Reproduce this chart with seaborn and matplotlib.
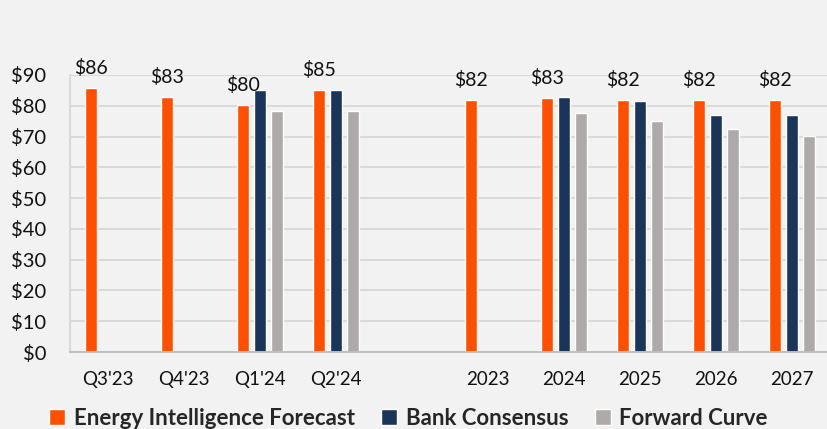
import matplotlib
matplotlib.use("Agg")
import matplotlib.pyplot as plt
import seaborn as sns
import pandas as pd
import numpy as np

# data
periods = ["Q3'23", "Q4'23", "Q1'24", "Q2'24", "2023", "2024", "2025", "2026", "2027"]
order = ["Q3'23", "Q4'23", "Q1'24", "Q2'24", " ", "2023", "2024", "2025", "2026", "2027"]
series = ["Energy Intelligence Forecast", "Bank Consensus", "Forward Curve"]
ei_forecast = [85.7, 82.9, 80.2, 85.2, 81.9, 82.5, 81.9, 81.9, 81.9]
bank_consensus = [np.nan, np.nan, 85.2, 85.2, np.nan, 82.7, 81.4, 76.9, 77.0]
forward_curve = [np.nan, np.nan, 78.2, 78.2, np.nan, 77.6, 74.9, 72.3, 70.2]
ei_labels = ["$86", "$83", "$80", "$85", "$82", "$83", "$82", "$82", "$82"]
y_ticks = [0, 10, 20, 30, 40, 50, 60, 70, 80, 90]
y_ticklabels = ["$0", "$10", "$20", "$30", "$40", "$50", "$60", "$70", "$80", "$90"]
colors = ["#fe5000", "#1b355a", "#aeaaaa"]

df = pd.DataFrame({
    "period": periods * 3,
    "series": np.repeat(series, len(periods)),
    "value": ei_forecast + bank_consensus + forward_curve,
}).dropna()

sns.set_theme(style="white")
plt.rcParams["font.family"] = ["Lato", "DejaVu Sans"]
bg = "#f2f2f2"

fig = plt.figure(figsize=(8.27, 4.29), dpi=100, facecolor=bg)
ax = fig.add_axes([70 / 827, 77 / 429, 760 / 827, 277 / 429], facecolor=bg)

sns.barplot(data=df, x="period", y="value", hue="series", order=order,
            hue_order=series, palette=colors, width=0.67, gap=0.25,
            saturation=1, ax=ax, legend=True)

ax.bar_label(ax.containers[0], labels=ei_labels, padding=8, fontsize=14,
             color="#111111")

ax.set_xlim(-0.5, 9.5)
ax.set_ylim(0, 90)
ax.set_yticks(y_ticks)
ax.set_yticklabels(y_ticklabels)
ax.set_xlabel("")
ax.set_ylabel("")
ax.yaxis.grid(True, color="#d9d9d9", linewidth=1.4)
ax.set_axisbelow(True)
ax.tick_params(axis="y", length=0, pad=17, labelsize=14.5, labelcolor="#111111")
ax.tick_params(axis="x", length=0, pad=14, labelsize=13.5, labelcolor="#111111")
for side in ["top", "right"]:
    ax.spines[side].set_visible(False)
ax.spines["left"].set_color("#d9d9d9")
ax.spines["left"].set_linewidth(1.4)
ax.spines["bottom"].set_color("#bfbfbf")
ax.spines["bottom"].set_linewidth(1.4)

handles, labels = ax.get_legend_handles_labels()
ax.get_legend().remove()
fig.legend(handles, labels, loc="center", bbox_to_anchor=(0.494, 0.025),
           ncol=3, frameon=False, handlelength=0.7, handleheight=0.7,
           handletextpad=0.4, columnspacing=1.2,
           prop={"weight": "bold", "size": 16})

fig.savefig("out.png", dpi=100, facecolor=bg)
